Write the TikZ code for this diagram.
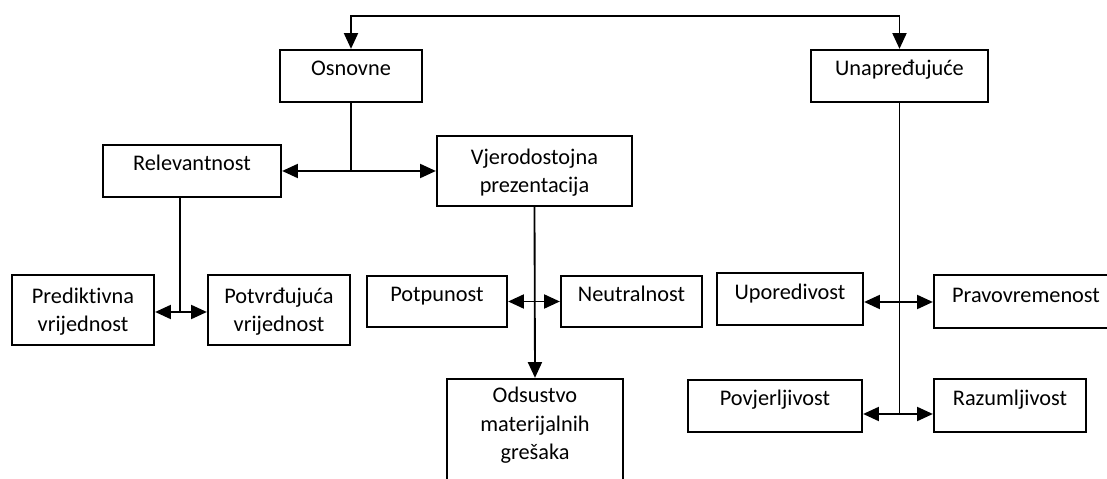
\documentclass[tikz,border=0pt]{standalone}
\usepackage{fontspec}
\setmainfont{Carlito}[Ligatures={NoCommon}]
\usetikzlibrary{arrows.meta,fit}
\tikzset{
  box/.style={draw=black, line width=1.3pt, inner sep=0pt, rectangle},
  lbl/.style={font=\fontsize{12.7pt}{16.5pt}\selectfont, align=center, anchor=base, inner sep=0pt, text=black},
  conn/.style={draw=black, line width=1.05pt},
  tip/.tip={Triangle[length=9pt, width=8pt]},
}
\begin{document}
\begin{tikzpicture}[x=0.02cm, y=-0.02cm]
\useasboundingbox (0,0) rectangle (1107,479);
\clip (0,0) rectangle (1107,479);
% boxes
\node[box, fit={(280,50) (422,102)}] (osn) {};
\node[box, fit={(811,50) (988,102)}] (una) {};
\node[box, fit={(103,145) (281,197)}] (rel) {};
\node[box, fit={(437,136) (632,206)}] (vje) {};
\node[box, fit={(12,275) (154,345)}] (pred) {};
\node[box, fit={(208,275) (350,345)}] (potv) {};
\node[box, fit={(367,276) (507,327)}] (potp) {};
\node[box, fit={(561,276) (702,327)}] (neut) {};
\node[box, fit={(447,379) (623,500)}] (ods) {};
\node[box, fit={(717,273) (863,325)}] (upor) {};
\node[box, fit={(934,275) (1118,328)}] (prav) {};
\node[box, fit={(688,380) (862,432)}] (povj) {};
\node[box, fit={(934,379) (1086,432)}] (razu) {};
% labels (base anchor = baseline of the last line)
\node[lbl] (osn-t) at (351,76) {Osnovne};
\node[lbl] (una-t) at (899.5,76) {Unapređujuće};
\node[lbl] (rel-t) at (192,171) {Relevantnost};
\node[lbl] (vje-t) at (534.5,193) {Vjerodostojna\\prezentacija};
\node[lbl] (pred-t) at (83,332) {Prediktivna\\vrijednost};
\node[lbl] (potv-t) at (279,332) {Potvrđujuća\\vrijednost};
\node[lbl] (potp-t) at (437,302) {Potpunost};
\node[lbl] (neut-t) at (631.5,302) {Neutralnost};
\node[lbl] (ods-t) at (535,460) {Odsustvo\\materijalnih\\grešaka};
\node[lbl] (upor-t) at (790,300) {Uporedivost};
\node[lbl] (prav-t) at (1026,303) {Pravovremenost};
\node[lbl] (povj-t) at (775,406) {Povjerljivost};
\node[lbl] (razu-t) at (1010,406) {Razumljivost};
% junction coordinates
\coordinate (jtop) at (351,16);
\coordinate (j1) at (180,312);
\coordinate (j2) at (899.5,302);
\coordinate (j3) at (899.5,414);
% connectors
\draw[conn, {tip}-{tip}] (osn.north) -- (jtop) -| (una.north);
\draw[conn] (osn.south) -- (osn.south |- rel.east);
\draw[conn, {tip}-{tip}] (rel.east) -- (vje.west);
\draw[conn] (j1 |- rel.south) -- (j1);
\draw[conn, {tip}-{tip}] (pred.east |- j1) -- (potv.west |- j1);
\draw[conn, -{tip}] (vje.south) -- (ods.north);
\draw[conn, {tip}-{tip}] (potp.east) -- (neut.west);
\draw[conn] (una.south) -- (j3);
\draw[conn, {tip}-{tip}] (upor.east |- j2) -- (prav.west |- j2);
\draw[conn, {tip}-{tip}] (povj.east |- j3) -- (razu.west |- j3);
\end{tikzpicture}
\end{document}
